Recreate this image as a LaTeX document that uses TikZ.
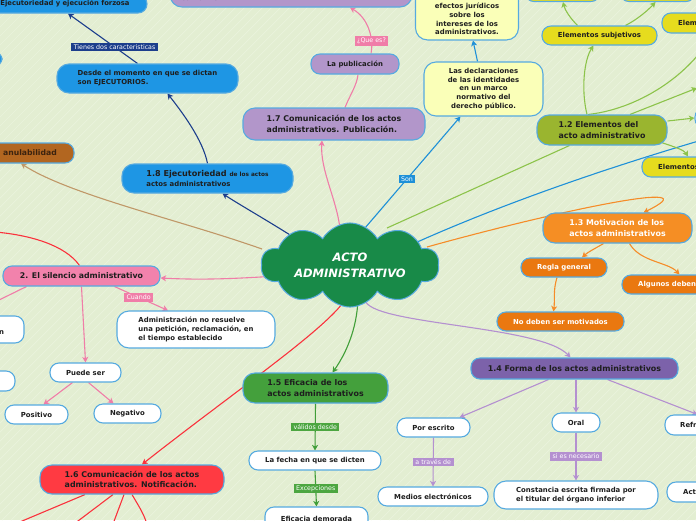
\documentclass[tikz,border=0pt]{standalone}
\usepackage{fontspec}
\setmainfont{DejaVu Sans}
\usetikzlibrary{shapes.symbols,arrows.meta,calc}
\pgfdeclarelayer{back}
\pgfdeclarelayer{edges}
\pgfsetlayers{back,edges,main}
\definecolor{bgc}{RGB}{227,238,210}
\definecolor{stripec}{RGB}{234,243,220}
\definecolor{bord}{RGB}{86,170,224}
\definecolor{txt}{RGB}{30,30,30}
\definecolor{cloudc}{RGB}{24,138,72}
\definecolor{purp}{RGB}{178,150,202}
\definecolor{pinkc}{RGB}{242,130,172}
\definecolor{pinkl}{RGB}{240,125,168}
\definecolor{bluec}{RGB}{30,150,228}
\definecolor{bluel}{RGB}{30,144,216}
\definecolor{navy}{RGB}{28,62,140}
\definecolor{brownc}{RGB}{178,102,32}
\definecolor{brownl}{RGB}{192,152,104}
\definecolor{redc}{RGB}{255,58,66}
\definecolor{redl}{RGB}{250,50,60}
\definecolor{greenc}{RGB}{68,160,60}
\definecolor{greenl}{RGB}{64,158,56}
\definecolor{greenlab}{RGB}{76,166,64}
\definecolor{purpd}{RGB}{124,98,170}
\definecolor{lavl}{RGB}{180,144,208}
\definecolor{orangec}{RGB}{245,142,36}
\definecolor{oranged}{RGB}{234,120,16}
\definecolor{orangel}{RGB}{245,140,40}
\definecolor{olive}{RGB}{154,181,47}
\definecolor{ygl}{RGB}{140,195,74}
\definecolor{yellowc}{RGB}{230,220,30}
\definecolor{paley}{RGB}{250,255,184}
\definecolor{browntxt}{RGB}{60,35,15}
\begin{document}
\begin{tikzpicture}[x=1pt,y=-1pt,
  bx/.style={draw=bord, line width=1.1pt, rounded corners=9pt, inner sep=0pt, text=txt, align=center, font=\bfseries\fontsize{6.9}{8.75}\selectfont},
  big/.style={rounded corners=12pt, font=\bfseries\fontsize{7.9}{10.5}\selectfont},
  wh/.style 2 args={minimum width=#1pt, minimum height=#2pt},
  tx/.style={inner sep=0pt, text=txt, font=\bfseries\fontsize{6.9}{8.75}\selectfont},
  lbl/.style={fill=#1, text=white, inner xsep=2.5pt, inner ysep=1.8pt, font=\fontsize{6.3}{7}\selectfont},
  ed/.style={line width=1.1pt, draw=#1},
  ar/.style={-{Stealth[length=5.5pt,width=6pt,inset=1.5pt]}}
]
\useasboundingbox (0,0) rectangle (696,520);
\begin{pgfonlayer}{back}
\fill[bgc] (0,0) rectangle (696,520);
\clip (0,0) rectangle (696,520);
\foreach \k in {0,9,...,1224} \draw[stripec, line width=0.7pt] (\k,0) -- (\k-520,520);
\end{pgfonlayer}
\clip (0,0) rectangle (696,520);

% central
\node[cloud, cloud puffs=10, cloud puff arc=120, aspect=2.4, minimum width=178pt, minimum height=74pt,
  fill=cloudc, draw=bord, line width=1pt, inner xsep=-4pt, inner ysep=-7pt, text=white, align=center,
  font=\bfseries\itshape\fontsize{11.5}{16}\selectfont] (cloud) at (350,265) {ACTO\\ADMINISTRATIVO};

% 1.7
\node[bx, big, fill=purp, wh={242}{38}] (ptop) at (291,-12) {};
\node[tx] (ptopt) at (201,-2) {conforme.};
\node[bx, big, fill=purp, wh={182}{32}, align=left] (n17) at (334,124) {1.7 Comunicación de los actos\\administrativos. Publicación.};
\node[bx, fill=purp, wh={88}{20}] (pub) at (355,64) {La publicación};

% yellow
\node[bx, rounded corners=12pt, fill=paley, minimum width=103pt, anchor=south, inner ysep=5pt] (yel1) at (467,40.5) {\strut\\efectos jurídicos\\sobre los\\intereses de los\\administrativos.};
\node[bx, rounded corners=12pt, fill=paley, wh={119}{54}] (decl) at (483.5,89) {Las declaraciones\\de las identidades\\en un marco\\normativo del\\derecho público.};

% 1.8
\node[bx, big, fill=bluec, wh={171}{29}, align=left, font=\bfseries\fontsize{8.1}{10}\selectfont] (n18) at (207.5,178.5) {1.8 Ejecutoriedad {\fontsize{5.8}{10}\selectfont de los actos}\\{\fontsize{6.9}{10}\selectfont actos administrativos}};
\node[bx, big, fill=bluec, wh={181}{29}, align=left, font=\bfseries\fontsize{6.9}{9}\selectfont] (desde) at (147.5,78.5) {Desde el momento en que se dictan\\son EJECUTORIOS.};
\node[bx, fill=bluec, wh={164}{18}, font=\bfseries\fontsize{6.8}{8}\selectfont] (ejec) at (65,4) {Ejecutoriedad y ejecución forzosa};
\node[bx, fill=bluec, wh={44}{16}] (bl1) at (-20,59) {};

% anulabilidad
\node[bx, fill=brownc, wh={88}{20}, text=browntxt, font=\bfseries\fontsize{7.7}{9}\selectfont] (anul) at (30,153) {anulabilidad};

% 2 silencio
\node[bx, fill=pinkc, wh={157}{20}, font=\bfseries\fontsize{7.8}{9}\selectfont] (sil) at (81.5,276) {2. El silencio administrativo};
\node[bx, rounded corners=12pt, fill=white, wh={158}{37}, align=left] (adm) at (196,329.5) {Administración no resuelve\\una petición, reclamación, en\\el tiempo establecido};
\node[bx, fill=white, wh={64}{27}] (lw1) at (-8,329.5) {};
\node[tx] (lw1t) at (1.5,333) {n};
\node[bx, fill=white, wh={54}{20}] (lw2) at (-12,381) {};
\node[bx, fill=white, wh={71}{19}] (puede) at (85.5,372.5) {Puede ser};
\node[bx, fill=white, wh={63}{19}] (posi) at (36.5,414.5) {Positivo};
\node[bx, fill=white, wh={67}{19}] (nega) at (127.5,413.5) {Negativo};

% 1.6
\node[bx, big, fill=redc, wh={184}{29}, align=left] (n16) at (132,479.5) {1.6 Comunicación de los actos\\administrativos. Notificación.};

% 1.5
\node[bx, big, fill=greenc, wh={145}{30}, align=left] (n15) at (315.5,388) {1.5 Eficacia de los\\actos administrativos};
\node[bx, fill=white, wh={132}{19}] (fecha) at (315,460.5) {La fecha en que se dicten};
\node[bx, fill=white, wh={103}{24}] (efic) at (316.5,519) {Eficacia demorada};

% 1.4
\node[bx, fill=purpd, wh={207}{21}, font=\bfseries\fontsize{7.9}{9}\selectfont] (n14) at (574.5,368.5) {1.4 Forma de los actos administrativos};
\node[bx, fill=white, wh={73}{19}] (escr) at (433.5,427.5) {Por escrito};
\node[bx, fill=white, wh={48}{19}] (oral) at (576,422.5) {Oral};
\node[bx, fill=white, wh={65}{20}] (refr) at (697.5,425) {};
\node[tx, anchor=west] (refrt) at (680,425) {Refr};
\node[bx, fill=white, wh={110}{19}] (medios) at (433,496.5) {Medios electrónicos};
\node[bx, rounded corners=12pt, fill=white, wh={164}{28}, align=left] (const) at (576,495) {Constancia escrita firmada por\\el titular del órgano inferior};
\node[bx, fill=white, wh={63}{20}] (act) at (698.5,492) {};
\node[tx, anchor=west] (actt) at (683,492) {Act};

% 1.3
\node[bx, big, fill=orangec, wh={149}{30}, align=left, text=white] (n13) at (617.5,228) {1.3 Motivacion de los\\actos administrativos};
\node[bx, fill=oranged, wh={86}{19}, text=white] (regla) at (564,267.5) {Regla general};
\node[bx, fill=oranged, wh={108}{19}] (alg) at (676,284.5) {};
\node[tx, anchor=west, text=white] (algt) at (638,284.5) {Algunos deben};
\node[bx, fill=oranged, wh={127}{19}, text=white] (nodeb) at (560.5,321.5) {No deben ser motivados};

% 1.2
\node[bx, big, fill=olive, wh={130}{30}, align=left] (n12) at (602,130) {1.2 Elementos del\\acto administrativo};
\node[bx, fill=yellowc, wh={115}{19}] (subj) at (599.5,35.5) {Elementos subjetivos};
\node[bx, fill=yellowc, wh={68}{20}] (elem1) at (696,23) {};
\node[tx, anchor=west] (elem1t) at (678,23) {Elem};
\node[bx, fill=yellowc, wh={88}{20}] (elem2) at (686,167) {};
\node[tx, anchor=west] (elem2t) at (658,167) {Elementos};
\node[bx, fill=yellowc, wh={75}{21}] (topn1) at (562.5,-9) {};
\node[bx, fill=yellowc, wh={75}{21}] (topn2) at (657.5,-9) {};
\node[bx, fill=white, wh={65}{20}] (rightn) at (727.5,118) {};

\begin{pgfonlayer}{edges}
\clip (0,0) rectangle (696,520);
% 1.7 branch
\draw[ed=pinkl, ar] ($(cloud.center)+(-10,-36)$) .. controls (337,200) and (320,170) .. ($(n17.south)+(-12,0)$);
\draw[ed=pinkl] ($(n17.north)+(11,0)$) .. controls (350,95) and (357,85) .. ($(pub.south)+(3,0)$);
\draw[ed=pinkl, ar] ($(pub.north)+(16,0)$) .. controls (374,38) and (368,18) .. ($(ptop.south)+(59,0)$) node[pos=0.25, lbl=pinkl] (qlab) {¿Que es?};
% Son
\draw[ed=bluel, ar] ($(cloud.center)+(15,-37)$) -- ($(decl.south west)+(37,0)$) node[pos=0.44, lbl=bluel] (sonl) {Son};
\draw[ed=bluel, ar] ($(decl.north)+(-6,0)$) -- ($(yel1.south)+(6,0)$);
% 1.8
\draw[ed=navy, ar] ($(cloud.center)+(-52,-25)$) .. controls (270,222) and (240,205) .. ($(n18.south)+(15,0)$);
\draw[ed=navy, ar] (n18.north) .. controls (203,140) and (182,112) .. ($(desde.south)+(20,0)$);
\draw[ed=navy, ar] ($(desde.north)+(-10,0)$) -- ($(ejec.south)+(3,0)$) node[pos=0.33, lbl=navy] (tienl) {Tienes dos caracteristicas};
% anulabilidad
\draw[ed=brownl, ar] ($(cloud.center)+(-88,-16)$) .. controls (180,220) and (70,195) .. ($(anul.south)+(-9,0)$);
% silencio
\draw[ed=pinkl, ar] ($(cloud.center)+(-73,11)$) .. controls (230,279) and (200,280) .. ($(sil.east)+(0,2)$);
\draw[ed=pinkl, ar] ($(sil.south)+(33,0)$) -- ($(adm.north)+(-28,0)$) node[pos=0.45, lbl=pinkl] (cuanl) {Cuando};
\draw[ed=pinkl, ar] (sil.south) -- (puede.north);
\draw[ed=pinkl, ar] ($(puede.south)+(-13,0)$) -- ($(posi.north)+(7,0)$);
\draw[ed=pinkl, ar] ($(puede.south)+(3,0)$) -- ($(nega.north)+(-14,0)$);
\coordinate (offL1) at (-5,302);
\draw[ed=pinkl] ($(sil.south west)+(24,0)$) -- (offL1);
\coordinate (offL2) at (-5,232);
\draw[ed=redl] (offL2) .. controls (30,235) and (65,245) .. ($(sil.north)+(-2,0)$);
% 1.6
\draw[ed=redl, ar] ($(cloud.center)+(-5,35)$) .. controls (325,330) and (230,395) .. ($(n16.north)+(10,0)$);
\coordinate (r1) at (15,524);
\coordinate (r2) at (74,524);
\coordinate (r3) at (113,524);
\coordinate (r4) at (147,524);
\draw[ed=redl] ($(n16.south)+(-47,0)$) -- (r1);
\draw[ed=redl] ($(n16.south)+(-19,0)$) -- (r2);
\draw[ed=redl] ($(n16.south)+(-8,0)$) -- (r3);
\draw[ed=redl] (n16.south) .. controls (138,505) and (143,512) .. (r4);
% 1.5
\draw[ed=greenl, ar] ($(cloud.center)+(8,34)$) .. controls (357,330) and (345,355) .. ($(n15.north)+(17,0)$);
\draw[ed=greenl, ar] (n15.south) -- (fecha.north) node[midway, lbl=greenlab] (vall) {válidos desde};
\draw[ed=greenl, ar] (fecha.south) -- (efic.north) node[midway, lbl=greenlab] (excl) {Excepciones};
% 1.4
\draw[ed=lavl, ar] ($(cloud.center)+(15,35)$) .. controls (370,325) and (540,325) .. ($(n14.north)+(-4,0)$);
\draw[ed=lavl, ar] ($(n14.south)+(-26,0)$) -- ($(escr.north)+(26,0)$);
\draw[ed=lavl, ar] ($(n14.south)+(1.5,0)$) -- (oral.north);
\draw[ed=lavl, ar] ($(n14.south)+(33,0)$) -- (refr.north);
\draw[ed=lavl, ar] (escr.south) -- (medios.north) node[midway, lbl=lavl] (travl) {a través de};
\draw[ed=lavl, ar] (oral.south) -- (const.north) node[midway, lbl=lavl] (sinl) {si es necesario};
% 1.3
\draw[ed=orangel, ar] ($(cloud.center)+(77,-18)$) .. controls (560,210) and (715,178) .. ($(n13.north)+(26,0)$);
\draw[ed=orangel, ar] ($(n13.south)+(-14,0)$) .. controls (596,248) and (588,252) .. ($(regla.north)+(18,0)$);
\draw[ed=orangel, ar] ($(n13.south)+(12,0)$) .. controls (640,262) and (668,262) .. ($(alg.north west)+(58,0)$);
\draw[ed=orangel, ar] ($(regla.south)+(-7,0)$) .. controls (553,290) and (555,300) .. ($(nodeb.north)+(-7,0)$);
% blue to right
\coordinate (offR0) at (702,140);
\draw[ed=bluel] ($(cloud.center)+(65,-22)$) .. controls (500,205) and (600,170) .. (offR0);
% 1.2
\draw[ed=ygl] ($(cloud.center)+(37,-37)$) -- ($(n12.south west)+(33,0)$);
\draw[ed=ygl, ar] ($(n12.north)+(-15,0)$) .. controls (581,90) and (584,60) .. ($(subj.south)+(-6,0)$);
\draw[ed=ygl, ar] ($(subj.north)+(-22,0)$) .. controls (570,18) and (565,10) .. ($(topn1.south)+(0.5,0)$);
\draw[ed=ygl, ar] ($(subj.north)+(26,0)$) .. controls (640,18) and (650,8) .. ($(topn2.south)+(-2,0)$);
\coordinate (offR1) at (702,50);
\draw[ed=ygl] ($(n12.north)+(-14,0)$) .. controls (630,110) and (675,85) .. (offR1);
\coordinate (offR2) at (697,88);
\draw[ed=ygl, ar] ($(n12.north)+(28,0)$) -- (offR2);
\draw[ed=ygl, ar] ($(n12.east)+(0,-9)$) -- (rightn.west);
\draw[ed=ygl, ar] ($(n12.south east)+(-6,-3)$) .. controls (675,147) and (684,150) .. ($(elem2.north)+(2,0)$);
\end{pgfonlayer}
\end{tikzpicture}
\end{document}
